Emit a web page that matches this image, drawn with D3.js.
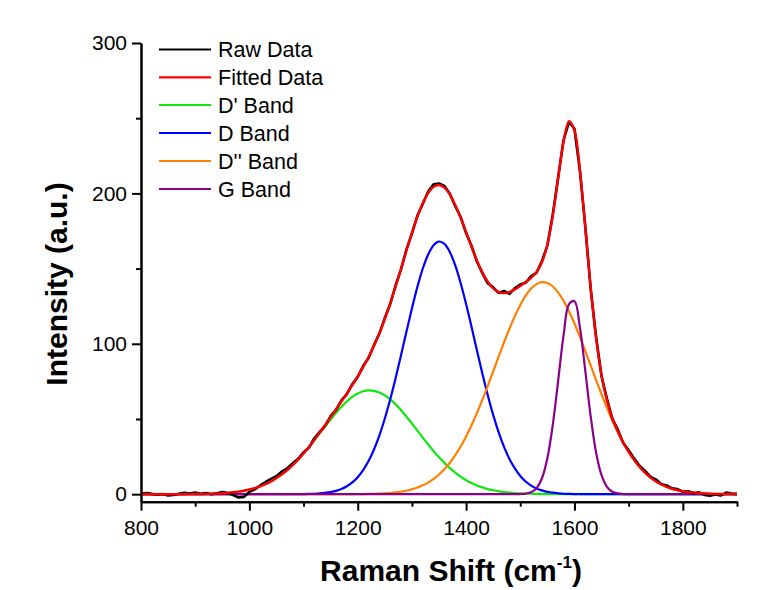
<!DOCTYPE html>
<html><head><meta charset="utf-8">
<script src="https://cdn.jsdelivr.net/npm/d3@7"></script>
<style>body{margin:0;background:#fff;} svg{display:block;font-family:"Liberation Sans",Arial,sans-serif;}</style>
</head><body><svg id="chart" width="784" height="590"></svg>
<script>
const shift = [
 800,810,820,830,840,850,860,870,880,890,
 900,910,920,930,940,950,960,970,980,990,
 1000,1010,1020,1030,1040,1050,1060,1070,1080,1090,
 1100,1110,1120,1130,1140,1150,1160,1170,1180,1190,
 1200,1210,1220,1230,1240,1250,1260,1270,1280,1290,
 1300,1310,1320,1330,1340,1350,1360,1370,1380,1390,
 1400,1410,1420,1430,1440,1450,1460,1470,1480,1490,
 1500,1510,1520,1530,1540,1550,1560,1570,1580,1590,
 1600,1610,1620,1630,1640,1650,1660,1670,1680,1690,
 1700,1710,1720,1730,1740,1750,1760,1770,1780,1790,
 1800,1810,1820,1830,1840,1850,1860,1870,1880,1890,
 1900];
const rawData = [
 0.3,0.8,0.2,-0.3,0.1,-0.8,-0.5,0.3,0.9,0.4,
 1.1,0.3,0.8,0.0,0.6,1.4,0.7,-0.6,-2.2,-1.8,
 1.5,3.2,5.8,8.1,10.2,12.0,15.1,17.2,20.6,23.5,
 27.8,31.0,37.2,41.5,45.6,51.9,56.0,62.4,66.5,73.1,
 78.0,85.2,90.6,99.1,106.8,117.2,126.5,138.9,149.6,162.8,
 173.2,185.1,193.0,201.3,206.1,206.6,205.0,199.8,191.5,184.3,
 173.6,165.2,154.7,147.0,140.2,137.5,133.8,135.1,133.2,137.0,
 139.4,140.6,145.0,147.2,155.1,165.3,186.0,210.9,235.6,247.5,
 243.0,215.1,178.2,136.4,104.5,78.3,63.4,50.1,42.9,34.0,
 29.2,23.8,18.9,15.6,11.7,9.9,6.8,5.8,3.9,3.4,
 1.6,1.9,0.6,1.2,-0.5,-1.0,-0.2,-0.9,1.1,0.4,
 0.2];
const fittedData = [
 0,0,0,0,0,0,0,0,0,0.1,
 0.1,0.1,0.2,0.3,0.5,0.6,0.9,1.3,1.7,2.3,
 3.1,4.0,5.3,6.7,8.5,10.7,13.2,16.1,19.3,23.0,
 27.1,31.4,36.1,41.0,46.0,51.2,56.4,61.6,67.0,72.5,
 78.3,84.5,91.2,98.7,107.1,116.5,126.9,138.2,150.0,162.1,
 173.7,184.4,193.4,200.2,204.4,205.6,203.8,199.2,192.3,183.7,
 174.2,164.5,155.3,147.5,141.3,136.9,134.5,133.7,134.4,136.2,
 138.5,141.1,143.9,147.7,154.2,165.9,185.2,210.3,234.8,248.0,
 241.9,215.8,177.2,137.1,103.4,79.0,62.3,50.6,41.7,34.4,
 28.1,22.8,18.2,14.4,11.2,8.6,6.6,4.9,3.6,2.7,
 1.9,1.4,1.0,0.7,0.5,0.3,0.2,0.1,0.1,0.1,
 0.0];
const dPrimeBand = [
 0,0,0,0,0,0,0,0,0,0.1,
 0.1,0.1,0.2,0.3,0.5,0.6,0.9,1.3,1.7,2.3,
 3.1,4.0,5.3,6.7,8.5,10.7,13.2,16.1,19.3,23.0,
 27.0,31.3,35.8,40.5,45.2,49.7,54.1,58.2,61.7,64.7,
 66.9,68.4,69.0,68.7,67.6,65.7,63.0,59.7,55.8,51.5,
 47.0,42.3,37.6,33.0,28.6,24.5,20.8,17.3,14.3,11.6,
 9.3,7.4,5.8,4.5,3.4,2.6,1.9,1.4,1.0,0.7,
 0.5,0.4,0.3,0.2,0.1,0.1,0.1,0,0,0,
 0,0,0,0,0,0,0,0,0,0,
 0,0,0,0,0,0,0,0,0,0,
 0,0,0,0,0,0,0,0,0,0,
 0];
const dBand = [
 0,0,0,0,0,0,0,0,0,0,
 0,0,0,0,0,0,0,0,0,0,
 0,0,0,0,0,0,0,0,0,0,
 0.1,0.2,0.3,0.5,0.9,1.4,2.2,3.5,5.3,7.8,
 11.3,16.0,22.0,29.7,39.1,50.3,63.1,77.3,92.5,108.2,
 123.5,137.7,149.9,159.4,165.6,168.0,166.4,161.0,152.1,140.3,
 126.5,111.3,95.6,80.3,65.8,52.7,41.2,31.4,23.4,17.1,
 12.1,8.4,5.7,3.8,2.5,1.5,1.0,0.6,0.3,0.2,
 0.1,0.1,0,0,0,0,0,0,0,0,
 0,0,0,0,0,0,0,0,0,0,
 0,0,0,0,0,0,0,0,0,0,
 0];
const dDoublePrimeBand = [
 0,0,0,0,0,0,0,0,0,0,
 0,0,0,0,0,0,0,0,0,0,
 0,0,0,0,0,0,0,0,0,0,
 0,0,0,0,0,0,0,0,0,0,
 0.1,0.1,0.2,0.3,0.4,0.6,0.8,1.2,1.7,2.3,
 3.2,4.4,5.9,7.7,10.1,13.1,16.6,20.9,25.9,31.7,
 38.4,45.8,53.9,62.7,72.0,81.6,91.4,100.9,110.0,118.4,
 125.8,132.0,136.7,139.7,141.0,140.4,138.1,134.0,128.5,121.5,
 113.5,104.6,95.2,85.5,75.8,66.4,57.4,49.0,41.2,34.3,
 28.1,22.8,18.2,14.4,11.2,8.6,6.6,4.9,3.6,2.7,
 1.9,1.4,1.0,0.7,0.5,0.3,0.2,0.1,0.1,0.1,
 0.0];
const gBand = [
 0,0,0,0,0,0,0,0,0,0,
 0,0,0,0,0,0,0,0,0,0,
 0,0,0,0,0,0,0,0,0,0,
 0,0,0,0,0,0,0,0,0,0,
 0,0,0,0,0,0,0,0,0,0,
 0,0,0,0,0,0,0,0,0,0,
 0,0,0,0,0,0,0,0,0,0,
 0.1,0.4,1.3,4.0,10.6,23.9,46.1,75.7,105.9,126.3,
 128.3,111.1,82.0,51.6,27.6,12.6,4.9,1.6,0.5,0.1,
 0,0,0,0,0,0,0,0,0,0,
 0,0,0,0,0,0,0,0,0,0,
 0];
const seriesNames = ["Raw Data", "Fitted Data", "D' Band", "D Band", "D'' Band", "G Band"];
const seriesColors = ["#000000", "#ff0000", "#11e611", "#0000ff", "#ff8000", "#8b008b"];
const xTicks = [800, 1000, 1200, 1400, 1600, 1800];
const xMinorTicks = [900, 1100, 1300, 1500, 1700, 1900];
const yTicks = [0, 100, 200, 300];
const yMinorTicks = [50, 150, 250];

const svg = d3.select("#chart");
svg.append("rect").attr("width", 784).attr("height", 590).attr("fill", "#fff");

const x = d3.scaleLinear().domain([800, 1900]).range([141, 737]);
const y = d3.scaleLinear().domain([-5, 300]).range([501.7, 43]);

const bandSeries = [
  {vals: dPrimeBand, color: seriesColors[2]},
  {vals: dBand, color: seriesColors[3]},
  {vals: dDoublePrimeBand, color: seriesColors[4]},
  {vals: gBand, color: seriesColors[5]}
];
const smooth = d3.line().x((d, i) => x(shift[i])).y(d => y(d)).curve(d3.curveCatmullRom.alpha(0.5));
const straight = d3.line().x((d, i) => x(shift[i])).y(d => y(d));

const plot = svg.append("g");
bandSeries.forEach(s => {
  plot.append("path").attr("d", smooth(s.vals)).attr("fill", "none")
    .attr("stroke", s.color).attr("stroke-width", 2.2).attr("stroke-linejoin", "round");
});
plot.append("path").attr("d", straight(rawData)).attr("fill", "none")
  .attr("stroke", seriesColors[0]).attr("stroke-width", 2.6).attr("stroke-linejoin", "round");
plot.append("path").attr("d", smooth(fittedData)).attr("fill", "none")
  .attr("stroke", seriesColors[1]).attr("stroke-width", 2.4).attr("stroke-linejoin", "round");

// axes
const fs = 21;
const fmt = d3.format("d");
const yAxis = svg.append("g").attr("transform", "translate(141,0)")
  .call(d3.axisLeft(y).tickValues(yTicks).tickFormat(fmt).tickSize(9).tickSizeOuter(0).tickPadding(5));
const yMinor = svg.append("g").attr("transform", "translate(141,0)")
  .call(d3.axisLeft(y).tickValues(yMinorTicks).tickSize(5).tickSizeOuter(0).tickFormat(""));
const xAxis = svg.append("g").attr("transform", "translate(0,501.7)")
  .call(d3.axisBottom(x).tickValues(xTicks).tickFormat(fmt).tickSize(9).tickSizeOuter(0).tickPadding(9));
const xMinor = svg.append("g").attr("transform", "translate(0,501.7)")
  .call(d3.axisBottom(x).tickValues(xMinorTicks).tickSize(5).tickSizeOuter(0).tickFormat(""));
[yAxis, yMinor, xAxis, xMinor].forEach(g => {
  g.selectAll("path.domain").attr("stroke", "#000").attr("stroke-width", 2);
  g.selectAll(".tick line").attr("stroke", "#000").attr("stroke-width", 2);
  g.selectAll(".tick text").attr("font-size", fs).attr("fill", "#000")
    .attr("font-family", '"Liberation Sans", Arial, sans-serif');
});

// axis titles
svg.append("text").attr("transform", "translate(67,284) rotate(-90)")
  .attr("text-anchor", "middle").attr("font-size", 30).attr("font-weight", "bold")
  .text("Intensity (a.u.)");
const xt = svg.append("text").attr("x", 451).attr("y", 581)
  .attr("text-anchor", "middle").attr("font-size", 30).attr("font-weight", "bold");
xt.append("tspan").text("Raman Shift (cm");
xt.append("tspan").attr("font-size", 17).attr("dy", -13).text("-1");
xt.append("tspan").attr("dy", 13).text(")");

// legend
const legendRows = [49.5, 77.3, 105, 133, 161, 189];
seriesNames.forEach((name, i) => {
  svg.append("line").attr("x1", 159).attr("x2", 211)
    .attr("y1", legendRows[i]).attr("y2", legendRows[i])
    .attr("stroke", seriesColors[i]).attr("stroke-width", 2.2);
  svg.append("text").attr("x", 218).attr("y", legendRows[i]).attr("dy", "0.36em")
    .attr("font-size", 21.5).attr("fill", "#000").text(name);
});
</script>
</body></html>
